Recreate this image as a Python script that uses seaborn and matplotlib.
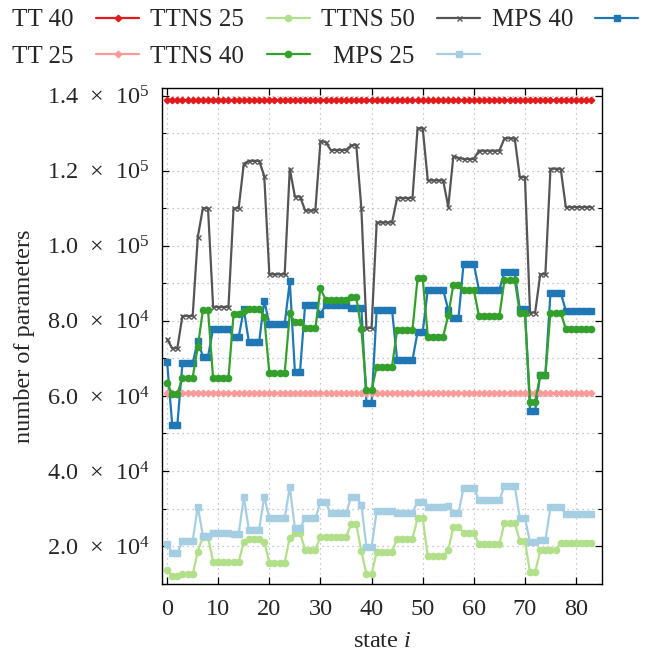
import matplotlib
matplotlib.use("Agg")
import matplotlib.pyplot as plt
import matplotlib.ticker as mticker
import seaborn as sns
import numpy as np

states = list(range(84))

tt40 = [138700] * 84
tt25 = [60800] * 84

ttns50 = [75100, 72700, 72700, 81300, 81300, 81300, 102300, 110000, 110000, 83700,
          83700, 83700, 83700, 110000, 110000, 121800, 122600, 122600, 122600, 118600,
          92400, 92400, 92400, 92400, 120500, 113100, 113100, 109400, 109400, 109400,
          127800, 127600, 125500, 125500, 125500, 125500, 126700, 126900, 110000, 78100,
          78100, 106200, 106200, 106200, 106200, 112700, 112700, 112700, 112700, 131300,
          131300, 117400, 117400, 117400, 117400, 110400, 123800, 123400, 123100, 123100,
          123100, 125300, 125300, 125300, 125300, 125300, 128600, 128600, 128600, 118300,
          118300, 82200, 82200, 92400, 92400, 120500, 120500, 120500, 110300, 110300,
          110300, 110300, 110300, 110300]

mps40 = [69000, 52300, 52300, 68700, 68700, 68700, 74700, 70500, 70500, 77900,
         77900, 77900, 77900, 75600, 75600, 83100, 74300, 74300, 74300, 85400,
         79100, 79100, 79100, 79100, 90500, 66400, 66400, 84300, 84300, 84300,
         81900, 84100, 84100, 84100, 84100, 84100, 83500, 83500, 83500, 58100,
         58100, 82900, 82900, 82900, 82900, 69600, 69600, 69600, 69600, 77000,
         77000, 88300, 88300, 88300, 88300, 82900, 80700, 80700, 95200, 95200,
         95200, 88300, 88300, 88300, 88300, 88300, 93000, 93000, 93000, 83100,
         83100, 56100, 56100, 65600, 65600, 87500, 87500, 87500, 82700, 82700,
         82700, 82700, 82700, 82700]

ttns40 = [63400, 60500, 60500, 64900, 64900, 64900, 73000, 82900, 82900, 64700,
          64700, 64700, 64700, 81800, 81800, 82500, 83100, 83100, 83100, 81000,
          66100, 66100, 66100, 66100, 82000, 79600, 79600, 78000, 78000, 78000,
          88700, 85600, 85600, 85600, 85600, 85600, 86300, 86300, 77800, 61500,
          61500, 67800, 67800, 67800, 67800, 77600, 77600, 77600, 77600, 91400,
          91400, 75800, 75800, 75800, 75800, 81500, 89600, 89600, 88300, 88300,
          88300, 81300, 81300, 81300, 81300, 81300, 90900, 90900, 90900, 82200,
          82200, 58500, 58500, 65600, 65600, 82200, 82200, 82200, 77800, 77800,
          77800, 77800, 77800, 77800]

mps25 = [20500, 18200, 18200, 21400, 21400, 21400, 30500, 22800, 22800, 23500,
         23500, 23500, 23500, 23300, 23300, 33000, 24400, 24400, 24400, 33100,
         27500, 27500, 27500, 27500, 35800, 24700, 24700, 27400, 27400, 27400,
         31800, 31800, 28700, 28700, 28700, 28700, 33100, 33100, 30900, 19800,
         19800, 29300, 29300, 29300, 29300, 28900, 28900, 28900, 28900, 31800,
         31800, 30500, 30500, 30500, 30500, 30700, 28700, 28700, 35600, 35600,
         35600, 32200, 32200, 32200, 32200, 32200, 36100, 36100, 36100, 27500,
         27500, 21100, 21100, 21600, 21600, 30300, 30300, 30300, 28500, 28500,
         28500, 28500, 28500, 28500]

ttns25 = [13600, 12000, 12000, 12500, 12500, 12500, 18500, 22500, 22500, 15800,
          15800, 15800, 15800, 15800, 15800, 21200, 22000, 22000, 22000, 21200,
          15600, 15600, 15600, 15600, 22300, 23500, 23500, 19100, 19100, 19100,
          22500, 22500, 22500, 22500, 22500, 22500, 25800, 25800, 18700, 12500,
          12500, 18500, 18500, 18500, 18500, 22000, 22000, 22000, 22000, 27400,
          27400, 17300, 17300, 17300, 17300, 18900, 25100, 25100, 23500, 23500,
          23500, 20500, 20500, 20500, 20500, 20500, 26200, 26200, 26200, 21400,
          21400, 13000, 13000, 18900, 18900, 18900, 18900, 20900, 20900, 20900,
          20900, 20900, 20900, 20900]

x_ticks = [0, 10, 20, 30, 40, 50, 60, 70, 80]
y_ticks = [20000, 40000, 60000, 80000, 100000, 120000, 140000]

sns.set_style("ticks")
plt.rcParams["font.family"] = ["Liberation Serif", "DejaVu Serif"]
plt.rcParams["mathtext.fontset"] = "custom"
plt.rcParams["mathtext.rm"] = "Liberation Serif"
plt.rcParams["mathtext.it"] = "Liberation Serif:italic"
plt.rcParams["mathtext.bf"] = "Liberation Serif:bold"

FS = 17.5
LFS = 18
pal = sns.color_palette("Paired")
c_lblue, c_blue, c_lgreen, c_green, c_pink, c_red = pal[0], pal[1], pal[2], pal[3], pal[4], pal[5]
c_gray = "#555555"

fig = plt.figure(figsize=(6.51, 6.52), dpi=100)
ax = fig.add_axes([162 / 651, 1 - 583.7 / 652, (601.6 - 162) / 651, (583.7 - 88) / 652])

series = [
    ("TT 40", tt40, c_red, "D", 3.3),
    ("TTNS 25", ttns25, c_lgreen, "o", 4.5),
    ("TTNS 50", ttns50, c_gray, "x", 3.6),
    ("MPS 40", mps40, c_blue, "s", 3.8),
    ("TT 25", tt25, c_pink, "D", 3.3),
    ("TTNS 40", ttns40, c_green, "o", 4.5),
    ("MPS 25", mps25, c_lblue, "s", 3.8),
]

handles = {}
for name, vals, col, mk, ms in series:
    sns.lineplot(x=states, y=vals, ax=ax, color=col, marker=mk, markersize=ms,
                 markeredgecolor=col, markeredgewidth=1.0, linewidth=1.6,
                 label=name, legend=False)
    handles[name] = ax.lines[-1]

ax.set_xlim(-1, 85)
ax.set_ylim(10000, 142000)
ax.xaxis.set_major_locator(mticker.FixedLocator(x_ticks))
ax.yaxis.set_major_locator(mticker.FixedLocator(y_ticks))
ax.yaxis.set_minor_locator(mticker.FixedLocator([10000, 30000, 50000, 70000, 90000, 110000, 130000]))

def yfmt(v, pos):
    e = int(np.floor(np.log10(v)))
    m = v / 10 ** e
    return "%.1f\u2002\u00d7\u2002" % m + "10" + r"$^{%d}$" % e

ax.yaxis.set_major_formatter(mticker.FuncFormatter(yfmt))
ax.tick_params(axis="both", which="major", direction="in", length=5, width=0.9,
               top=True, right=True, labelsize=FS, color="black")
ax.tick_params(axis="x", which="major", pad=11)
ax.tick_params(axis="y", which="major", pad=9)
ax.tick_params(axis="both", which="minor", direction="in", length=2.8, width=0.8,
               top=True, right=True, color="black")
ax.grid(True, which="major", axis="both", linestyle=(0, (1, 3)), color="#b5b5b5", linewidth=0.9)
ax.grid(True, which="minor", axis="y", linestyle=(0, (1, 3)), color="#b5b5b5", linewidth=0.9)
for s in ax.spines.values():
    s.set_linewidth(1.0)
    s.set_color("black")

ax.set_xlabel(r"state $i$", fontsize=FS, labelpad=8)
ax.set_ylabel("number of parameters", fontsize=FS, labelpad=8)

order = ["TT 40", "TT 25", "TTNS 25", "TTNS 40", "TTNS 50", "MPS 25", "MPS 40"]
fig.legend([handles[n] for n in order], order, loc="upper left",
           bbox_to_anchor=(12 / 651, 1 - 9 / 652), ncol=4, markerfirst=False,
           frameon=False, fontsize=LFS, handlelength=1.72, handletextpad=0.9,
           columnspacing=0.45, labelspacing=0.55, borderpad=0, borderaxespad=0)

fig.savefig("out.png", dpi=100)
